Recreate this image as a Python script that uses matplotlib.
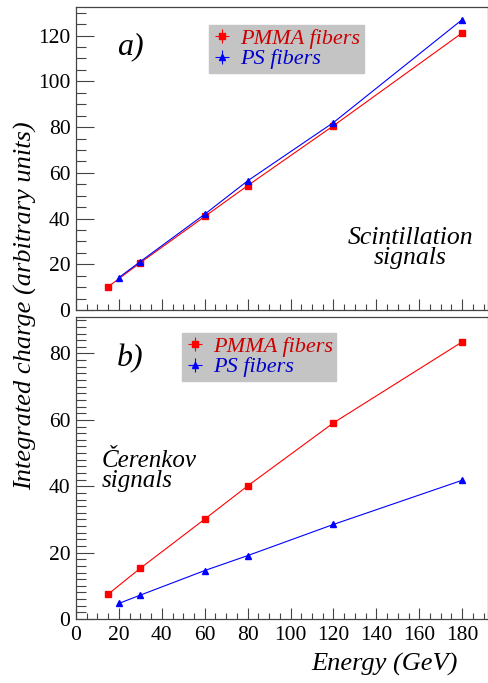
import matplotlib
matplotlib.use("Agg")
import matplotlib.pyplot as plt
from matplotlib.lines import Line2D
from matplotlib.legend_handler import HandlerTuple
from matplotlib.ticker import MultipleLocator
from matplotlib.font_manager import FontProperties

FAM = "Liberation Serif"
plt.rcParams["font.family"] = FAM

# energies (GeV)
pmma_energy = [15, 30, 60, 80, 120, 180]
ps_energy = [20, 30, 60, 80, 120, 180]

# a) scintillation signals
scint_pmma = [10.2, 20.7, 40.9, 54.4, 80.6, 121.2]
scint_ps = [14.2, 21.2, 41.9, 56.5, 82.0, 127.0]

# b) Cerenkov signals
cer_pmma = [7.5, 15.3, 30.1, 40.1, 59.1, 83.5]
cer_ps = [4.7, 7.2, 14.6, 19.1, 28.5, 41.8]

RED = "#ff0000"
BLUE = "#0000ff"


def fp(size, style="normal"):
    return FontProperties(family=FAM, style=style, size=size)


fig = plt.figure(figsize=(4.89, 6.83), dpi=100)
ax1 = fig.add_axes([0.1554, 0.5461, 0.8425, 0.4436])
ax2 = fig.add_axes([0.1554, 0.0937, 0.8425, 0.4422])


def style_axis(ax, ymax, ymaj, ymin):
    ax.set_xlim(0, 192)
    ax.set_ylim(0, ymax)
    ax.xaxis.set_major_locator(MultipleLocator(20))
    ax.xaxis.set_minor_locator(MultipleLocator(5))
    ax.yaxis.set_major_locator(MultipleLocator(ymaj))
    ax.yaxis.set_minor_locator(MultipleLocator(ymin))
    ax.tick_params(axis="both", which="both", direction="in", top=False, right=False,
                   color="#444444", width=0.8)
    ax.tick_params(axis="x", which="major", length=8, pad=5)
    ax.tick_params(axis="x", which="minor", length=4)
    ax.tick_params(axis="y", which="major", length=13, pad=4)
    ax.tick_params(axis="y", which="minor", length=7)
    for lab in ax.get_xticklabels() + ax.get_yticklabels():
        lab.set_fontproperties(fp(15.5))
    for sp in ax.spines.values():
        sp.set_color("#444444")
        sp.set_linewidth(0.9)


def draw(ax, pmma, ps, lx, ly):
    ax.plot(pmma_energy, pmma, color=RED, lw=0.8, marker="s", ms=4.5,
            mec=RED, mfc=RED)
    ax.plot(ps_energy, ps, color=BLUE, lw=0.8, marker="^", ms=4.5,
            mec=BLUE, mfc=BLUE)
    h_pmma = (Line2D([], [], color=RED, marker="s", ms=4, lw=0),
              Line2D([], [], color=RED, marker="+", ms=10, mew=0.8, lw=0))
    h_ps = (Line2D([], [], color=BLUE, marker="^", ms=4, lw=0),
            Line2D([], [], color=BLUE, marker="+", ms=10, mew=0.8, lw=0))
    leg = ax.legend([h_pmma, h_ps], ["PMMA fibers", "PS fibers"],
                    handler_map={tuple: HandlerTuple(ndivide=1)},
                    loc="upper left", bbox_to_anchor=(lx, ly),
                    frameon=True, fancybox=False, facecolor="#c4c4c4",
                    edgecolor="#c4c4c4", framealpha=1,
                    prop=fp(16, "italic"),
                    handlelength=0.9, handletextpad=0.35, labelspacing=0.0,
                    borderpad=0.15, borderaxespad=0)
    leg.get_texts()[0].set_color("#cc0000")
    leg.get_texts()[1].set_color("#0000cc")


style_axis(ax1, 132.5, 20, 5)
ax1.tick_params(axis="x", labelbottom=False)
draw(ax1, scint_pmma, scint_ps, 0.323, 0.941)
ax1.text(0.100, 0.868, "a)", transform=ax1.transAxes, fontproperties=fp(23, "italic"),
         ha="left", va="center")
ax1.text(0.811, 0.205, "Scintillation\nsignals", transform=ax1.transAxes,
         fontproperties=fp(18.5, "italic"), ha="center", va="center", linespacing=0.9)

style_axis(ax2, 91, 20, 2)
draw(ax2, cer_pmma, cer_ps, 0.257, 0.947)
ax2.text(0.100, 0.861, "b)", transform=ax2.transAxes, fontproperties=fp(23, "italic"),
         ha="left", va="center")
ax2.text(0.063, 0.49, "Čerenkov\nsignals", transform=ax2.transAxes,
         fontproperties=fp(18, "italic"), ha="left", va="center", linespacing=0.9)

ax2.set_xlabel("Energy (GeV)", fontproperties=fp(19, "italic"), ha="right",
               x=0.927, labelpad=6)
fig.text(0.052, 0.553, "Integrated charge (arbitrary units)", rotation=90,
         fontproperties=fp(19, "italic"), ha="center", va="center")

fig.savefig("out.png", dpi=100)
